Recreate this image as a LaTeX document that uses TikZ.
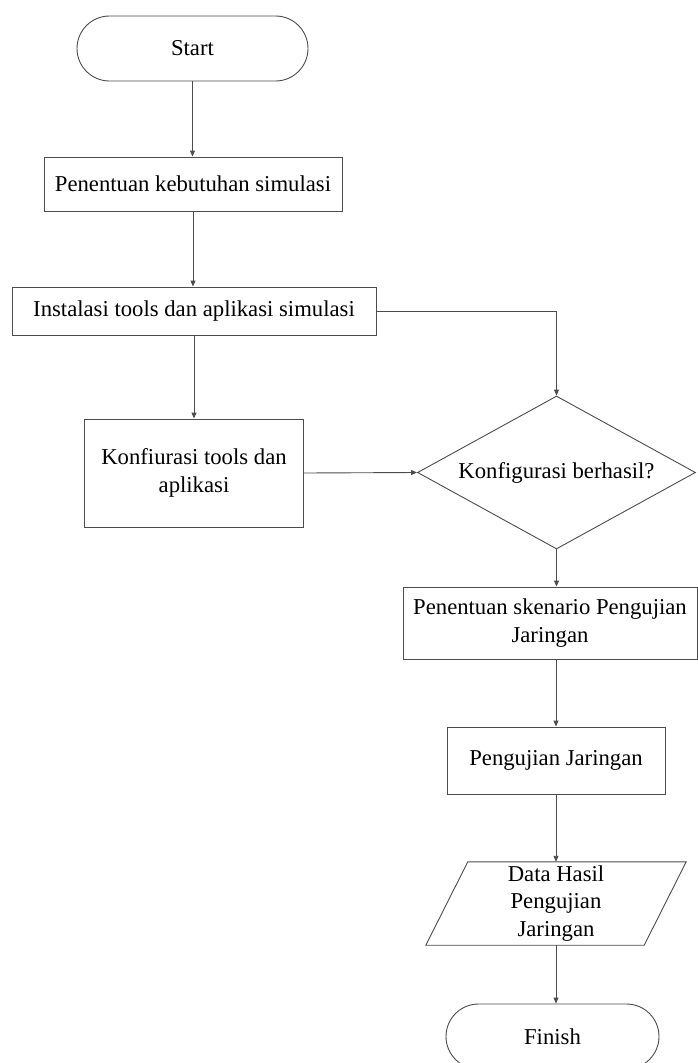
\documentclass[tikz,border=0pt]{standalone}
\usepackage{fontspec}
\setmainfont{Liberation Serif}
\usetikzlibrary{arrows.meta,shapes.geometric,shapes.misc,calc}
\begin{document}
\begin{tikzpicture}[x=1pt,y=-1pt,
  every node/.style={font=\fontsize{22.7}{27.5}\selectfont, text=black, inner sep=0pt},
  line/.style={draw=black!70, line width=0.9pt},
  flow/.style={line, -{Triangle[length=6pt,width=5pt]}},
  terminal/.style={line, rounded rectangle, fill=white},
  process/.style={line, rectangle, fill=white, align=center},
  decision/.style={line, diamond, aspect=1.817, fill=white}
]
\useasboundingbox (0,0) rectangle (697,1063);

% nodes
\node[terminal, minimum width=231pt, minimum height=65pt] (start) at (192.5,48.5) {Start};
\node[process, minimum width=298pt, minimum height=54pt] (need) at (193,184) {Penentuan kebutuhan simulasi};
\node[process, minimum width=364pt, minimum height=48pt] (install) at (194,311) {Instalasi tools dan aplikasi simulasi};
\node[process, minimum width=219pt, minimum height=108pt] (config) at (194,473) {Konfiurasi tools dan\\aplikasi};
\node[decision, minimum width=278pt, minimum height=153pt] (ok) at (556.5,472.5) {Konfigurasi berhasil?};
\node[process, minimum width=294pt, minimum height=72pt] (scen) at (550,623) {Penentuan skenario Pengujian\\Jaringan};
\node[process, minimum width=218pt, minimum height=67pt] (test) at (556,760.5) {Pengujian Jaringan};
\node[minimum width=218pt, minimum height=83pt, align=center] (data) at (556,903.5) {Data Hasil\\Pengujian\\Jaringan};
\draw[line] ($(data.north west)+(21,0)$) -- ($(data.north east)+(21,0)$)
  -- ($(data.south east)+(-21,0)$) -- ($(data.south west)+(-21,0)$) -- cycle;
\node[terminal, minimum width=213pt, minimum height=65pt] (finish) at (552.5,1036.5) {Finish};

% connectors
\draw[flow] (start.south) -- (start.south |- need.north);
\draw[flow] (need.south) -- (need.south |- install.north);
\draw[flow] (install.south) -- (install.south |- config.north);
\draw[flow] (install.east) -| (ok.north);
\draw[flow] (config.east) -- (ok.west);
\draw[flow] (ok.south) -- (ok.south |- scen.north);
\draw[flow] (test.north |- scen.south) -- (test.north);
\draw[flow] (test.south) -- (data.north);
\draw[flow] (data.south) -- (data.south |- finish.north);
\end{tikzpicture}
\end{document}
